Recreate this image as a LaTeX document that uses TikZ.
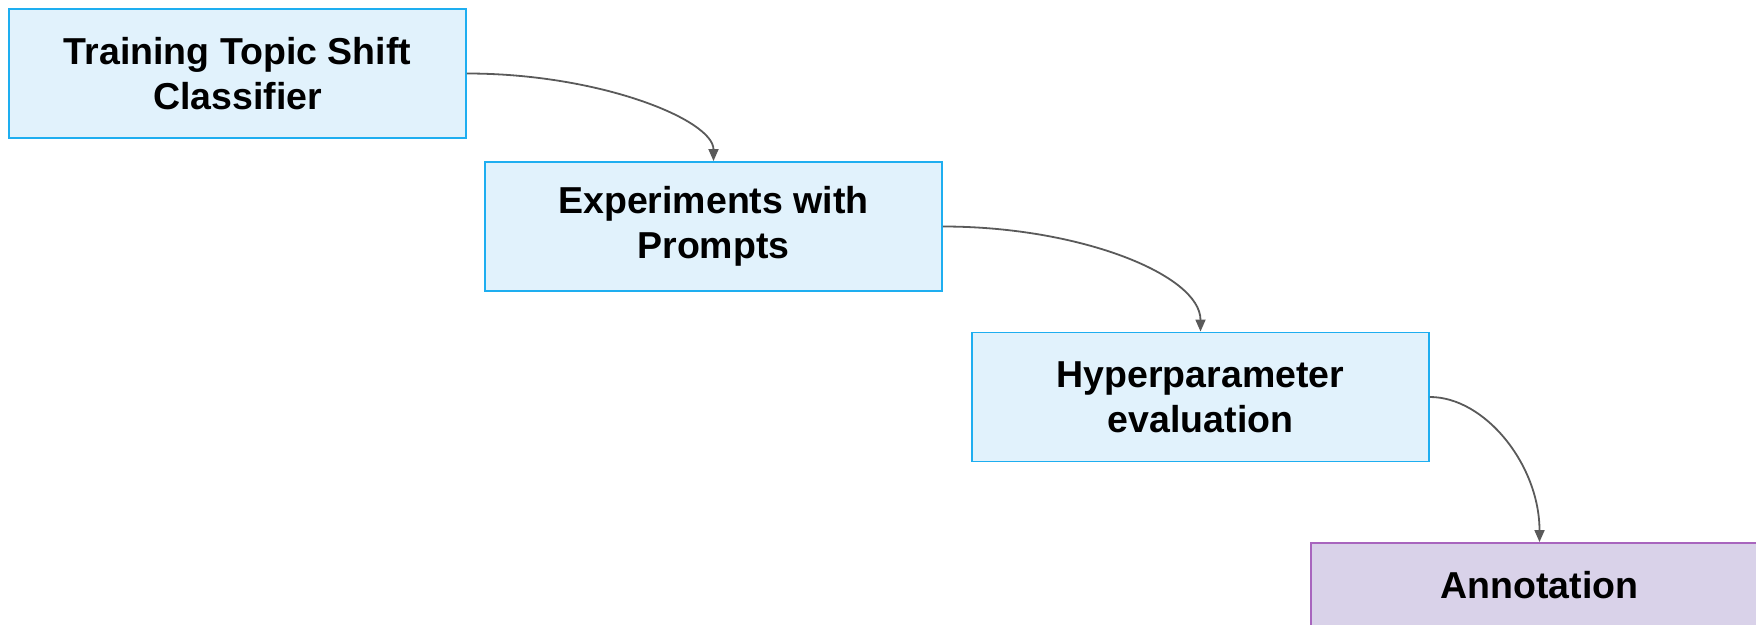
\documentclass[tikz,border=0pt]{standalone}
\usepackage{fontspec}
\setmainfont{Liberation Sans}
\usetikzlibrary{arrows.meta}
\definecolor{stepfill}{HTML}{E1F2FC}
\definecolor{stepline}{HTML}{1EAEF0}
\definecolor{endfill}{HTML}{D9D2E9}
\definecolor{endline}{HTML}{A865BE}
\definecolor{linkgray}{HTML}{5A5A5A}
\tikzset{
  stepbox/.style={draw=stepline, fill=stepfill, line width=1.9pt,
    minimum width=457pt, minimum height=129pt, inner sep=0pt,
    align=center, font=\bfseries\fontsize{37.5pt}{45pt}\selectfont},
  finalbox/.style={stepbox, draw=endline, fill=endfill, minimum height=84pt},
  link/.style={draw=linkgray, line width=1.8pt,
    -{Triangle[length=12pt,width=10pt]}}
}
\begin{document}
\begin{tikzpicture}[x=1pt,y=-1pt]
  \clip (0,0) rectangle (1756,624);
  \node[stepbox]  (train) at (237.5,73.5)  {Training Topic Shift\\Classifier};
  \node[stepbox]  (prompt) at (713.5,226.5) {Experiments with\\Prompts};
  \node[stepbox]  (hyper) at (1200.5,397) {Hyperparameter\\evaluation};
  \node[finalbox] (annot) at (1539.5,585) {Annotation};
  \draw[link] (train.east) .. controls (600,73.5) and (713.5,120) .. (prompt.north);
  \draw[link] (prompt.east) .. controls (1080,226.5) and (1200.5,275) .. (hyper.north);
  \draw[link] (hyper.east) .. controls (1485,397) and (1539.5,465) .. (annot.north);
\end{tikzpicture}
\end{document}
